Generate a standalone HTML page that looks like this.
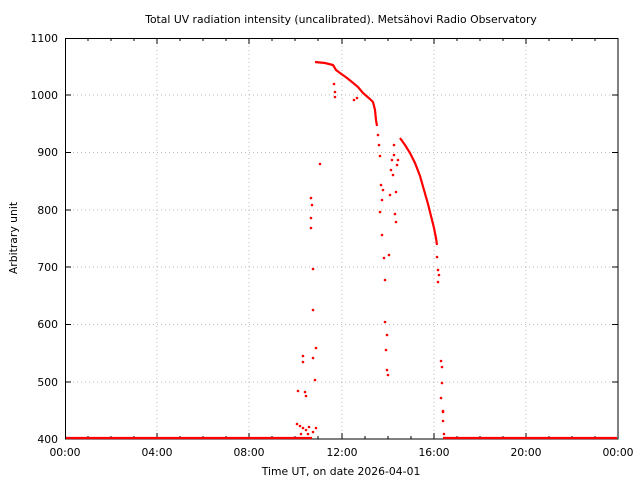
<!DOCTYPE html>
<html><head><meta charset="utf-8"><style>
html,body{margin:0;padding:0;background:#fff;width:640px;height:480px;overflow:hidden}
text{font-family:"DejaVu Sans","Liberation Sans",sans-serif;font-size:10.8px;fill:#000}
</style></head><body>
<svg width="640" height="480" viewBox="0 0 640 480" xmlns="http://www.w3.org/2000/svg">
<rect width="640" height="480" fill="#fff"/>
<g stroke="#bbb" stroke-width="1" stroke-dasharray="1 3">
<line x1="157" y1="38" x2="157" y2="439"/><line x1="249" y1="38" x2="249" y2="439"/>
<line x1="342" y1="38" x2="342" y2="439"/><line x1="434" y1="38" x2="434" y2="439"/>
<line x1="526" y1="38" x2="526" y2="439"/>
<line x1="65" y1="95" x2="618" y2="95"/><line x1="65" y1="152.5" x2="618" y2="152.5"/>
<line x1="65" y1="210" x2="618" y2="210"/><line x1="65" y1="267" x2="618" y2="267"/>
<line x1="65" y1="324.5" x2="618" y2="324.5"/><line x1="65" y1="382" x2="618" y2="382"/>
</g>
<g stroke="#000" stroke-width="1">
<rect x="65.5" y="38.5" width="552.5" height="400.5" fill="none"/>
<path d="M157 439v-6M249 439v-6M342 439v-6M434 439v-6M526 439v-6M157 38v6M249 38v6M342 38v6M434 38v6M526 38v6
M88 439v-3M111 439v-3M134 439v-3M180 439v-3M203 439v-3M226 439v-3M272 439v-3M295 439v-3M318 439v-3M365 439v-3M388 439v-3M411 439v-3M457 439v-3M480 439v-3M503 439v-3M549 439v-3M572 439v-3M595 439v-3
M88 38v3M111 38v3M134 38v3M180 38v3M203 38v3M226 38v3M272 38v3M295 38v3M318 38v3M365 38v3M388 38v3M411 38v3M457 38v3M480 38v3M503 38v3M549 38v3M572 38v3M595 38v3
M65 95h6M65 152.5h6M65 210h6M65 267h6M65 324.5h6M65 382h6M618 95h-6M618 152.5h-6M618 210h-6M618 267h-6M618 324.5h-6M618 382h-6"/>
</g>
<text x="341" y="23" text-anchor="middle">Total UV radiation intensity (uncalibrated). Metsähovi Radio Observatory</text>
<g text-anchor="end">
<text x="58" y="42">1100</text><text x="58" y="99">1000</text><text x="58" y="156">900</text>
<text x="58" y="214">800</text><text x="58" y="271">700</text><text x="58" y="328">600</text>
<text x="58" y="386">500</text><text x="58" y="443">400</text>
</g>
<g text-anchor="middle">
<text x="65" y="456">00:00</text><text x="157" y="456">04:00</text><text x="249" y="456">08:00</text>
<text x="342" y="456">12:00</text><text x="434" y="456">16:00</text><text x="526" y="456">20:00</text>
<text x="618" y="456">00:00</text>
<text x="341" y="475">Time UT, on date 2026-04-01</text>
</g>
<text transform="translate(17,238) rotate(-90)" text-anchor="middle">Arbitrary unit</text>
<g fill="none" stroke="#f00" stroke-width="2.2">
<line x1="66" y1="438" x2="312" y2="438"/>
<line x1="443" y1="438" x2="617" y2="438"/>
<polyline points="315,62 325,63 333,65 336,70 340,73 347,78 352,82 358,87 363,93 370,99 373,102 375,110 376,120 377,126"/>
<polyline points="400,138 405,145 410,153 415,163 420,176 424,190 428,204 431,216 434,228 436,238 437,245"/>
</g>
<g fill="#f00">
<circle cx="378" cy="135" r="1.3"/><circle cx="379" cy="145" r="1.3"/><circle cx="380" cy="156" r="1.3"/>
<circle cx="381" cy="185" r="1.3"/><circle cx="382" cy="200" r="1.3"/><circle cx="383" cy="190" r="1.3"/>
<circle cx="382" cy="235" r="1.3"/><circle cx="384" cy="258" r="1.3"/><circle cx="385" cy="280" r="1.3"/>
<circle cx="385" cy="322" r="1.3"/><circle cx="387" cy="335" r="1.3"/><circle cx="386" cy="350" r="1.3"/>
<circle cx="387" cy="370" r="1.3"/><circle cx="388" cy="375" r="1.3"/><circle cx="389" cy="255" r="1.3"/>
<circle cx="390" cy="195" r="1.3"/><circle cx="391" cy="170" r="1.3"/><circle cx="392" cy="160" r="1.3"/>
<circle cx="393" cy="175" r="1.3"/><circle cx="394" cy="155" r="1.3"/><circle cx="395" cy="214" r="1.3"/>
<circle cx="396" cy="222" r="1.3"/><circle cx="397" cy="165" r="1.3"/><circle cx="398" cy="160" r="1.3"/>
<circle cx="394" cy="145" r="1.3"/><circle cx="396" cy="192" r="1.3"/><circle cx="380" cy="212" r="1.3"/>
<circle cx="320" cy="164" r="1.3"/><circle cx="311" cy="198" r="1.3"/><circle cx="312" cy="205" r="1.3"/>
<circle cx="311" cy="218" r="1.3"/><circle cx="311" cy="228" r="1.3"/><circle cx="313" cy="269" r="1.3"/>
<circle cx="313" cy="310" r="1.3"/><circle cx="316" cy="348" r="1.3"/><circle cx="313" cy="358" r="1.3"/>
<circle cx="315" cy="380" r="1.3"/><circle cx="303" cy="356" r="1.3"/><circle cx="303" cy="362" r="1.3"/>
<circle cx="305" cy="392" r="1.3"/><circle cx="306" cy="396" r="1.3"/><circle cx="298" cy="391" r="1.3"/>
<circle cx="297" cy="424" r="1.3"/><circle cx="300" cy="426" r="1.3"/><circle cx="303" cy="428" r="1.3"/>
<circle cx="306" cy="430" r="1.3"/><circle cx="309" cy="427" r="1.3"/><circle cx="313" cy="432" r="1.3"/>
<circle cx="316" cy="428" r="1.3"/><circle cx="301" cy="434" r="1.3"/><circle cx="308" cy="434" r="1.3"/>
<circle cx="334" cy="84" r="1.3"/><circle cx="335" cy="92" r="1.3"/><circle cx="335" cy="97" r="1.3"/>
<circle cx="354" cy="100" r="1.3"/><circle cx="357" cy="98" r="1.3"/>
<circle cx="437" cy="257" r="1.3"/><circle cx="438" cy="270" r="1.3"/><circle cx="439" cy="275" r="1.3"/>
<circle cx="438" cy="282" r="1.3"/><circle cx="441" cy="361" r="1.3"/><circle cx="442" cy="367" r="1.3"/>
<circle cx="442" cy="383" r="1.3"/><circle cx="441" cy="398" r="1.3"/><circle cx="443" cy="411" r="1.3"/>
<circle cx="443" cy="412" r="1.3"/><circle cx="443" cy="421" r="1.3"/><circle cx="444" cy="434" r="1.3"/>
</g>
</svg>
</body></html>
